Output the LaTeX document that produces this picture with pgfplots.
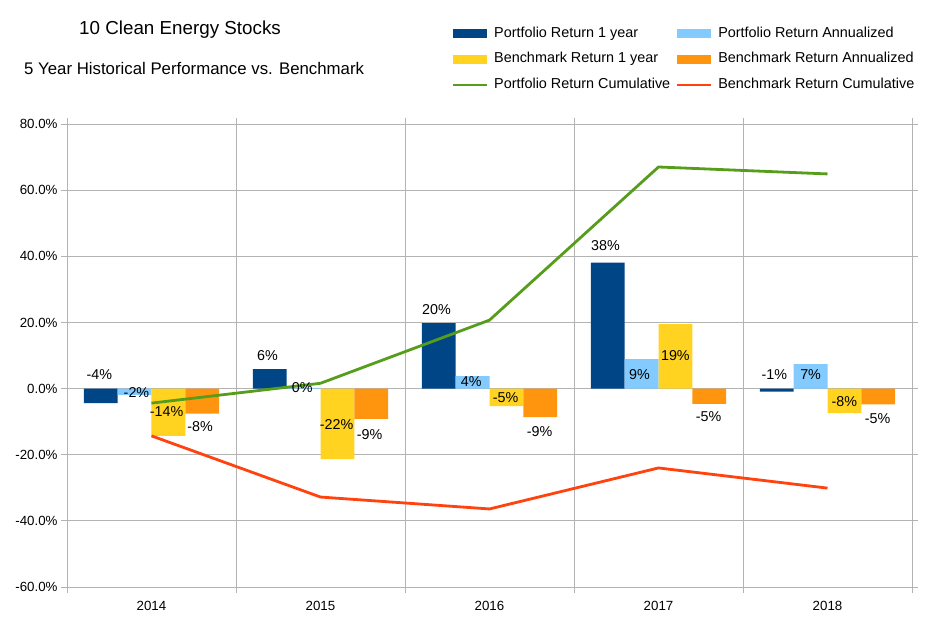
\documentclass[border=0pt]{standalone}
\usepackage{fontspec}
\setmainfont{Liberation Sans}
\usepackage{pgfplots}
\pgfplotsset{compat=1.18}
\definecolor{cPone}{HTML}{004586}
\definecolor{cPann}{HTML}{83CAFF}
\definecolor{cBone}{HTML}{FFD320}
\definecolor{cBann}{HTML}{FF950E}
\definecolor{cPcum}{HTML}{579D1C}
\definecolor{cBcum}{HTML}{FF420E}
\definecolor{gridgray}{HTML}{B3B3B3}
\begin{document}
\begin{tikzpicture}
\path[use as bounding box] (-67bp,-32bp) rectangle (861bp,587bp);
\begin{axis}[
  at={(0,0)}, anchor=south west,
  scale only axis, width=845bp, height=463bp,
  xmin=-0.5, xmax=4.5, ymin=-60, ymax=80,
  ytick={-60,-40,...,80},
  xtick={-0.5,0.5,1.5,2.5,3.5,4.5}, xticklabels={},
  extra x ticks={0,1,2,3,4},
  extra x tick labels={2014,2015,2016,2017,2018},
  extra x tick style={major tick length=0pt, grid=none,
    xticklabel style={yshift=-11bp}},
  grid=major, grid style={draw=gridgray, line width=0.8bp},
  axis line style={draw=gridgray, line width=0.8bp},
  tick style={draw=gridgray, line width=0.8bp},
  tick align=outside, major tick length=6bp,
  /pgf/number format/assume math mode=true,
  yticklabel={\pgfmathprintnumber[fixed,fixed zerofill,precision=1]{\tick}\%},
  tick label style={font=\fontsize{13.3bp}{15bp}\selectfont},
  legend columns=2,
  legend cell align=left,
  legend style={draw=none, fill=none, inner sep=0pt,
    at={(axis description cs:0.4556,1.215)}, anchor=north west,
    font=\fontsize{14.4bp}{16bp}\selectfont,
    /tikz/column sep=6bp, /tikz/row sep=8.3bp,
    nodes={inner xsep=0pt, inner ysep=2bp, text height=10.5bp, text depth=3bp}},
]
\addplot[ybar, bar width=0.2, bar shift=-0.3, fill=cPone, draw=none,
  legend image code/.code={\fill[cPone] (0bp,-4.4bp) rectangle (34bp,4.4bp);}]
  coordinates {(0,-4.4) (1,5.9) (2,19.8) (3,38.1) (4,-0.9)};
\addlegendentry{Portfolio Return 1 year}
\addplot[ybar, bar width=0.2, bar shift=-0.1, fill=cPann, draw=none,
  legend image code/.code={\fill[cPann] (0bp,-4.4bp) rectangle (34bp,4.4bp);}]
  coordinates {(0,-1.9) (1,0.2) (2,3.8) (3,8.9) (4,7.4)};
\addlegendentry{Portfolio Return Annualized}
\addplot[ybar, bar width=0.2, bar shift=0.1, fill=cBone, draw=none,
  legend image code/.code={\fill[cBone] (0bp,-4.4bp) rectangle (34bp,4.4bp);}]
  coordinates {(0,-14.3) (1,-21.3) (2,-5.3) (3,19.5) (4,-7.4)};
\addlegendentry{Benchmark Return 1 year}
\addplot[ybar, bar width=0.2, bar shift=0.3, fill=cBann, draw=none,
  legend image code/.code={\fill[cBann] (0bp,-4.4bp) rectangle (34bp,4.4bp);}]
  coordinates {(0,-7.6) (1,-9.2) (2,-8.6) (3,-4.6) (4,-4.8)};
\addlegendentry{Benchmark Return Annualized}
\addplot[sharp plot, draw=cPcum, line width=2.8bp, mark=none,
  legend image code/.code={\draw[cPcum, line width=2bp] (0bp,0bp) -- (34bp,0bp);}]
  coordinates {(0,-4.4) (1,1.6) (2,20.7) (3,67.0) (4,64.9)};
\addlegendentry{Portfolio Return Cumulative}
\addplot[sharp plot, draw=cBcum, line width=2.8bp, mark=none,
  legend image code/.code={\draw[cBcum, line width=2bp] (0bp,0bp) -- (34bp,0bp);}]
  coordinates {(0,-14.3) (1,-32.8) (2,-36.4) (3,-24.0) (4,-30.1)};
\addlegendentry{Benchmark Return Cumulative}
% data labels
\begin{scope}[every node/.style={font=\fontsize{14.3bp}{16bp}\selectfont, inner sep=0pt}]
\node at (axis cs:-0.308,4.1) {-4\%};
\node at (axis cs:-0.089,-1.1) {-2\%};
\node at (axis cs:0.089,-7.1) {-14\%};
\node at (axis cs:0.288,-11.5) {-8\%};
\node at (axis cs:0.686,9.9) {6\%};
\node at (axis cs:0.892,0.2) {0\%};
\node at (axis cs:1.095,-11.0) {-22\%};
\node at (axis cs:1.29,-14.0) {-9\%};
\node at (axis cs:1.686,23.8) {20\%};
\node at (axis cs:1.892,2.1) {4\%};
\node at (axis cs:2.095,-2.8) {-5\%};
\node at (axis cs:2.296,-13.0) {-9\%};
\node at (axis cs:2.686,43.1) {38\%};
\node at (axis cs:2.888,4.1) {9\%};
\node at (axis cs:3.1,9.9) {19\%};
\node at (axis cs:3.296,-8.5) {-5\%};
\node at (axis cs:3.686,4.1) {-1\%};
\node at (axis cs:3.9,4.1) {7\%};
\node at (axis cs:4.1,-4.0) {-8\%};
\node at (axis cs:4.296,-9.2) {-5\%};
\end{scope}
\end{axis}
\node[anchor=base west, inner sep=0pt, font=\fontsize{18.8bp}{22bp}\selectfont] at (12bp,552bp) {10 Clean Energy Stocks};
\node[anchor=base west, inner sep=0pt, font=\fontsize{16.8bp}{19bp}\selectfont] at (-43bp,512bp) {5 Year Historical Performance vs. Benchmark};
\end{tikzpicture}
\end{document}
